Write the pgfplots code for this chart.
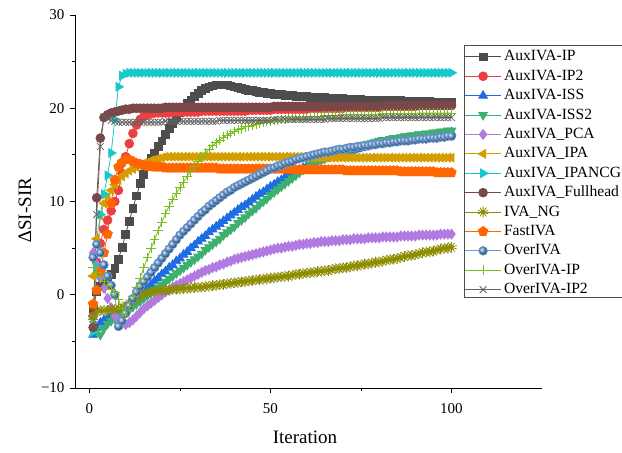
\documentclass[border=0pt]{standalone}
\usepackage{fontspec}
\setmainfont{Liberation Serif}
\usepackage{pgfplots}
\usepackage{pgfplotstable}
\pgfplotsset{compat=1.18}
\definecolor{cIP}{RGB}{77,77,77}
\definecolor{cIPtwo}{RGB}{236,64,64}
\definecolor{cISS}{RGB}{30,108,228}
\definecolor{cISStwo}{RGB}{60,176,110}
\definecolor{cPCA}{RGB}{176,122,224}
\definecolor{cIPA}{RGB}{212,158,0}
\definecolor{cNCG}{RGB}{22,200,204}
\definecolor{cFH}{RGB}{122,72,72}
\definecolor{cNG}{RGB}{140,140,0}
\definecolor{cFast}{RGB}{255,102,0}
\definecolor{cOver}{RGB}{102,152,210}
\definecolor{cOIP}{RGB}{122,190,30}
\definecolor{cOIPtwo}{RGB}{100,100,100}

\pgfplotstableread{
x IP IP2 ISS ISS2 PCA IPA NCG FH NG Fast Over OIP OIP2
1 -1.5 -2.3 -4.3 -2.5 4.5 2.0 -4.0 -3.5 -2.5 -1.0 4.0 2.9 -3.2
2 0.3 3.5 -3.6 -3.8 3.2 6.0 3.0 10.4 -1.8 0.5 5.4 2.4 8.6
3 0.9 5.5 -3.0 -4.3 1.8 8.5 8.6 16.8 -1.7 2.5 4.5 1.9 15.9
4 1.3 7.0 -2.7 -3.6 0.7 9.8 10.8 19.0 -1.7 4.5 3.2 1.4 19.1
5 1.7 8.0 -2.5 -3.1 -0.4 10.5 12.8 19.3 -1.7 6.5 2.0 1.0 18.9
6 2.2 9.0 -2.3 -2.8 -1.4 11.2 15.2 19.5 -1.6 9.8 1.0 0.6 18.7
7 2.8 10.0 -2.1 -2.6 -2.2 11.8 18.8 19.6 -1.6 12.3 0.0 0.2 18.6
8 3.8 11.2 -1.9 -2.4 -2.8 12.3 22.3 19.7 -1.5 13.7 -3.4 -0.5 18.5
9 5.1 13.0 -1.6 -2.2 -3.1 12.7 23.5 19.8 -1.4 14.2 -2.8 -1.5 18.5
10 6.5 14.8 -1.3 -1.9 -3.2 13.0 23.7 19.9 -1.2 14.5 -2.0 -2.2 18.5
11 7.9 16.2 -1.0 -1.6 -3.0 13.3 23.8 19.9 -1.0 14.5 -1.2 -1.2 18.5
12 9.3 17.3 -0.6 -1.3 -2.7 13.5 23.8 20.0 -0.7 14.3 -0.4 -0.2 18.5
13 10.6 18.2 -0.3 -1.0 -2.3 13.7 23.8 20.0 -0.4 14.1 0.3 0.8 18.5
14 11.9 18.8 0.1 -0.7 -1.9 13.9 23.8 20.0 -0.1 14.0 0.9 1.8 18.5
15 12.9 19.1 0.4 -0.4 -1.5 14.1 23.8 20.0 0.1 13.9 1.4 2.9 18.5
16 13.8 19.3 0.8 -0.1 -1.2 14.2 23.8 20.0 0.2 13.8 1.9 4.0 18.5
17 14.6 19.4 1.1 0.2 -0.9 14.4 23.8 20.0 0.3 13.8 2.4 5.0 18.5
18 15.2 19.5 1.5 0.5 -0.6 14.5 23.8 20.0 0.4 13.7 2.9 5.9 18.5
19 15.9 19.5 1.8 0.8 -0.3 14.6 23.8 20.0 0.4 13.7 3.4 6.9 18.5
20 16.5 19.5 2.2 1.1 0.0 14.7 23.8 20.0 0.5 13.7 3.9 7.8 18.5
21 17.2 19.5 2.5 1.4 0.3 14.8 23.8 20.1 0.5 13.6 4.4 8.7 18.6
22 17.8 19.5 2.9 1.7 0.5 14.8 23.8 20.1 0.5 13.6 4.9 9.5 18.6
23 18.4 19.6 3.2 2.0 0.8 14.8 23.8 20.1 0.6 13.6 5.4 10.2 18.6
24 19.0 19.6 3.6 2.3 1.0 14.8 23.8 20.1 0.6 13.6 5.9 10.9 18.6
25 19.5 19.6 3.9 2.6 1.2 14.8 23.8 20.1 0.6 13.6 6.4 11.5 18.6
26 20.0 19.6 4.3 2.9 1.4 14.8 23.8 20.1 0.7 13.6 6.8 12.1 18.6
27 20.5 19.6 4.6 3.2 1.6 14.8 23.8 20.1 0.7 13.6 7.2 12.7 18.6
28 20.9 19.6 5.0 3.5 1.8 14.8 23.8 20.1 0.7 13.6 7.6 13.3 18.6
29 21.3 19.6 5.3 3.8 2.0 14.8 23.8 20.1 0.8 13.6 8.0 13.8 18.6
30 21.6 19.6 5.7 4.1 2.2 14.8 23.8 20.1 0.8 13.6 8.4 14.3 18.6
31 21.9 19.7 6.0 4.4 2.4 14.8 23.8 20.1 0.8 13.6 8.8 14.8 18.6
32 22.1 19.7 6.3 4.8 2.6 14.8 23.8 20.1 0.9 13.6 9.1 15.2 18.6
33 22.3 19.7 6.7 5.1 2.7 14.8 23.8 20.1 0.9 13.6 9.5 15.6 18.6
34 22.4 19.7 7.0 5.4 2.9 14.8 23.8 20.1 1.0 13.6 9.8 16.0 18.6
35 22.5 19.7 7.3 5.7 3.0 14.8 23.8 20.1 1.0 13.6 10.1 16.3 18.6
36 22.5 19.7 7.6 6.0 3.2 14.8 23.8 20.1 1.1 13.5 10.4 16.6 18.7
37 22.5 19.7 7.9 6.4 3.3 14.8 23.8 20.1 1.1 13.5 10.7 16.9 18.7
38 22.5 19.7 8.2 6.7 3.5 14.8 23.8 20.1 1.2 13.5 11.0 17.1 18.7
39 22.4 19.7 8.5 7.0 3.6 14.8 23.8 20.1 1.2 13.5 11.2 17.3 18.7
40 22.3 19.7 8.8 7.3 3.8 14.8 23.8 20.1 1.3 13.5 11.5 17.5 18.7
41 22.2 19.7 9.1 7.7 3.9 14.8 23.8 20.1 1.3 13.5 11.7 17.7 18.7
42 22.1 19.7 9.4 8.0 4.0 14.8 23.8 20.1 1.4 13.5 11.9 17.8 18.7
43 22.0 19.7 9.6 8.3 4.1 14.8 23.8 20.1 1.4 13.5 12.1 18.0 18.7
44 21.9 19.8 9.9 8.7 4.2 14.8 23.8 20.1 1.5 13.5 12.3 18.1 18.7
45 21.9 19.8 10.2 9.0 4.3 14.8 23.8 20.1 1.5 13.5 12.5 18.2 18.7
46 21.8 19.8 10.5 9.3 4.4 14.8 23.8 20.1 1.6 13.5 12.7 18.3 18.7
47 21.7 19.8 10.8 9.7 4.5 14.8 23.8 20.1 1.6 13.5 12.9 18.4 18.7
48 21.7 19.8 11.0 10.0 4.6 14.8 23.8 20.1 1.7 13.5 13.1 18.5 18.7
49 21.6 19.8 11.3 10.3 4.7 14.8 23.8 20.1 1.7 13.5 13.3 18.6 18.7
50 21.6 19.8 11.6 10.7 4.8 14.8 23.8 20.1 1.8 13.5 13.5 18.6 18.7
51 21.5 19.9 11.8 11.0 4.9 14.8 23.8 20.2 1.8 13.5 13.6 18.7 18.8
52 21.5 19.9 12.1 11.3 5.0 14.8 23.8 20.2 1.9 13.5 13.8 18.7 18.8
53 21.5 19.9 12.3 11.6 5.0 14.8 23.8 20.2 1.9 13.5 13.9 18.8 18.8
54 21.4 19.9 12.6 11.9 5.1 14.8 23.8 20.2 2.0 13.5 14.1 18.8 18.8
55 21.4 19.9 12.8 12.2 5.2 14.8 23.8 20.2 2.0 13.5 14.2 18.9 18.8
56 21.4 19.9 13.0 12.5 5.2 14.8 23.8 20.2 2.1 13.4 14.3 18.9 18.8
57 21.3 19.9 13.2 12.8 5.3 14.8 23.8 20.2 2.2 13.4 14.5 18.9 18.8
58 21.3 19.9 13.4 13.1 5.4 14.8 23.8 20.2 2.2 13.4 14.6 19.0 18.8
59 21.3 19.9 13.6 13.4 5.4 14.8 23.8 20.2 2.3 13.4 14.7 19.0 18.8
60 21.3 19.9 13.8 13.6 5.5 14.8 23.8 20.2 2.3 13.4 14.8 19.0 18.8
61 21.2 20.0 14.0 13.9 5.5 14.7 23.8 20.2 2.4 13.4 14.9 19.1 18.8
62 21.2 20.0 14.1 14.1 5.6 14.7 23.8 20.2 2.4 13.4 15.0 19.1 18.8
63 21.2 20.0 14.3 14.3 5.6 14.7 23.8 20.2 2.5 13.4 15.1 19.1 18.8
64 21.2 20.0 14.4 14.5 5.7 14.7 23.8 20.2 2.5 13.4 15.2 19.1 18.8
65 21.2 20.0 14.6 14.7 5.7 14.7 23.8 20.2 2.6 13.4 15.3 19.2 18.8
66 21.1 20.0 14.7 14.9 5.7 14.7 23.8 20.2 2.6 13.4 15.3 19.2 18.9
67 21.1 20.0 14.8 15.0 5.8 14.7 23.8 20.2 2.7 13.4 15.4 19.2 18.9
68 21.1 20.0 15.0 15.2 5.8 14.7 23.8 20.2 2.8 13.4 15.5 19.2 18.9
69 21.1 20.0 15.1 15.3 5.8 14.7 23.8 20.2 2.8 13.4 15.6 19.2 18.9
70 21.1 20.0 15.2 15.5 5.9 14.7 23.8 20.2 2.9 13.4 15.6 19.3 18.9
71 21.0 20.1 15.3 15.6 5.9 14.7 23.8 20.2 2.9 13.3 15.7 19.3 18.9
72 21.0 20.1 15.4 15.7 5.9 14.7 23.8 20.2 3.0 13.3 15.8 19.3 18.9
73 21.0 20.1 15.5 15.8 6.0 14.7 23.8 20.2 3.1 13.3 15.8 19.3 18.9
74 21.0 20.1 15.6 15.9 6.0 14.7 23.8 20.2 3.1 13.3 15.9 19.3 18.9
75 21.0 20.1 15.7 16.0 6.0 14.7 23.8 20.2 3.2 13.3 15.9 19.3 18.9
76 20.9 20.1 15.8 16.1 6.0 14.7 23.8 20.2 3.3 13.3 16.0 19.3 18.9
77 20.9 20.1 15.9 16.2 6.1 14.7 23.8 20.2 3.3 13.3 16.0 19.3 18.9
78 20.9 20.1 16.0 16.3 6.1 14.7 23.8 20.2 3.4 13.3 16.1 19.3 18.9
79 20.9 20.1 16.1 16.4 6.1 14.7 23.8 20.2 3.5 13.3 16.1 19.3 18.9
80 20.9 20.1 16.2 16.5 6.1 14.7 23.8 20.2 3.5 13.3 16.2 19.3 18.9
81 20.8 20.2 16.3 16.6 6.2 14.7 23.8 20.3 3.6 13.3 16.2 19.4 19.0
82 20.8 20.2 16.4 16.6 6.2 14.7 23.8 20.3 3.7 13.3 16.3 19.4 19.0
83 20.8 20.2 16.4 16.7 6.2 14.7 23.8 20.3 3.8 13.3 16.3 19.4 19.0
84 20.8 20.2 16.5 16.8 6.2 14.7 23.8 20.3 3.8 13.3 16.4 19.4 19.0
85 20.8 20.2 16.6 16.8 6.2 14.7 23.8 20.3 3.9 13.3 16.4 19.4 19.0
86 20.8 20.2 16.6 16.9 6.3 14.7 23.8 20.3 4.0 13.2 16.5 19.4 19.0
87 20.7 20.2 16.7 17.0 6.3 14.7 23.8 20.3 4.1 13.2 16.5 19.4 19.0
88 20.7 20.2 16.8 17.0 6.3 14.7 23.8 20.3 4.2 13.2 16.5 19.4 19.0
89 20.7 20.2 16.8 17.1 6.3 14.7 23.8 20.3 4.2 13.2 16.6 19.4 19.0
90 20.7 20.2 16.9 17.1 6.3 14.7 23.8 20.3 4.3 13.2 16.6 19.4 19.0
91 20.7 20.3 16.9 17.2 6.4 14.7 23.8 20.3 4.4 13.2 16.7 19.5 19.0
92 20.7 20.3 17.0 17.2 6.4 14.7 23.8 20.3 4.5 13.2 16.7 19.5 19.0
93 20.7 20.3 17.0 17.3 6.4 14.7 23.8 20.3 4.6 13.2 16.7 19.5 19.0
94 20.7 20.3 17.1 17.3 6.4 14.7 23.8 20.3 4.6 13.2 16.8 19.5 19.0
95 20.6 20.3 17.1 17.4 6.4 14.7 23.8 20.3 4.7 13.2 16.8 19.5 19.0
96 20.6 20.3 17.2 17.4 6.4 14.7 23.8 20.3 4.8 13.1 16.8 19.5 19.0
97 20.6 20.3 17.2 17.5 6.5 14.7 23.8 20.3 4.9 13.1 16.9 19.5 19.0
98 20.6 20.3 17.3 17.5 6.5 14.7 23.8 20.3 5.0 13.1 16.9 19.5 19.0
99 20.6 20.3 17.3 17.6 6.5 14.7 23.8 20.3 5.0 13.1 17.0 19.5 19.0
100 20.6 20.3 17.4 17.6 6.5 14.7 23.8 20.3 5.1 13.1 17.0 19.5 19.0
}\data

\begin{document}
\begin{tikzpicture}
\begin{axis}[
  scale only axis, width=467pt, height=373pt,
  xmin=-4, xmax=125, ymin=-10, ymax=30,
  axis lines=left,
  axis line style={-, line width=0.9pt, black},
  xtick={0,50,100}, xticklabels={0,50,100}, minor xtick={25,75},
  ytick={-10,0,10,20,30}, yticklabels={−10,0,10,20,30}, minor ytick={-5,5,15,25},
  tick align=outside, major tick length=5pt, minor tick length=3pt,
  tick style={black, line width=0.9pt},
  ticklabel style={font=\fontsize{15}{15}\selectfont},
  xticklabel style={yshift=-7pt},
  yticklabel style={xshift=-2pt},
  xlabel={Iteration}, ylabel={∆SI-SIR},
  label style={font=\fontsize{19}{19}\selectfont},
  xlabel style={at={(axis description cs:0.4925,-0.131)}, anchor=center},
  ylabel style={at={(axis description cs:-0.107,0.477)}, anchor=center},
  every axis plot/.append style={line width=0.8pt},
  legend cell align=left,
  legend style={at={(axis description cs:0.8287,0.917)}, anchor=north west,
    draw=none, fill=white,
    font=\fontsize{15.6}{16}\selectfont,
    inner xsep=2.5pt, inner ysep=1pt, row sep=0pt,
    nodes={inner xsep=2.5pt, inner ysep=1.7pt, text height=12pt, text depth=4pt}},
  legend image code/.code={\draw[mark repeat=2,mark phase=2] plot coordinates {(0pt,0pt) (18pt,0pt) (36pt,0pt)};},
]
\addplot[cIP, mark=square*, mark size=3.9pt, mark options={solid, fill=cIP}] table[x=x,y=IP]{\data};
\addlegendentry{AuxIVA-IP}
\addplot[cIPtwo, mark=*, mark size=4.4pt, mark options={solid, fill=cIPtwo}] table[x=x,y=IP2]{\data};
\addlegendentry{AuxIVA-IP2}
\addplot[cISS, mark=triangle*, mark size=5pt, mark options={solid, fill=cISS}] table[x=x,y=ISS]{\data};
\addlegendentry{AuxIVA-ISS}
\addplot[cISStwo, mark=triangle*, mark size=5pt, mark options={solid, fill=cISStwo, rotate=180}] table[x=x,y=ISS2]{\data};
\addlegendentry{AuxIVA-ISS2}
\addplot[cPCA, mark=diamond*, mark size=5pt, mark options={solid, fill=cPCA}] table[x=x,y=PCA]{\data};
\addlegendentry{AuxIVA\_PCA}
\addplot[cIPA, mark=triangle*, mark size=5pt, mark options={solid, fill=cIPA, rotate=90}] table[x=x,y=IPA]{\data};
\addlegendentry{AuxIVA\_IPA}
\addplot[cNCG, mark=triangle*, mark size=5pt, mark options={solid, fill=cNCG, rotate=-90}] table[x=x,y=NCG]{\data};
\addlegendentry{AuxIVA\_IPANCG}
\addplot[cFH, mark=*, mark size=4.4pt, mark options={solid, fill=cFH}] table[x=x,y=FH]{\data};
\addlegendentry{AuxIVA\_Fullhead}
\addplot[cNG, mark=10-pointed star, mark size=5.4pt, mark options={solid, fill=cNG}] table[x=x,y=NG]{\data};
\addlegendentry{IVA\_NG}
\addplot[cFast, mark=pentagon*, mark size=5pt, mark options={solid, fill=cFast}] table[x=x,y=Fast]{\data};
\addlegendentry{FastIVA}
\addplot[cOver, mark=ball, mark size=4.3pt, mark options={ball color=cOver}] table[x=x,y=Over]{\data};
\addlegendentry{OverIVA}
\addplot[cOIP, mark=+, mark size=4.8pt, mark options={solid}] table[x=x,y=OIP]{\data};
\addlegendentry{OverIVA-IP}
\addplot[cOIPtwo, mark=x, mark size=4.8pt, mark options={solid}] table[x=x,y=OIP2]{\data};
\addlegendentry{OverIVA-IP2}
\end{axis}
\draw[black!70, line width=0.8pt] (current axis.north west) ++(389pt,-30pt) rectangle ++(175pt,-252pt);
\pgfresetboundingbox
\path[use as bounding box] (current axis.south west) ++(-75pt,-65pt) rectangle ++(622pt,453pt);
\end{tikzpicture}
\end{document}
